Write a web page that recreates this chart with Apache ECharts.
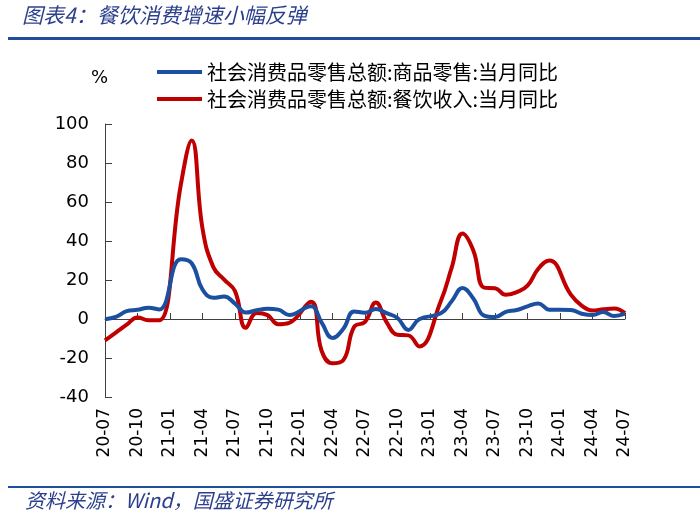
<!DOCTYPE html>
<html><head><meta charset="utf-8">
<script src="https://cdn.jsdelivr.net/npm/echarts@6/dist/echarts.min.js"></script>
<style>html,body{margin:0;padding:0;background:#fff;}#c{width:700px;height:521px;}</style>
</head><body><div id="c"></div>
<script>
var categories = ['20-07','20-08','20-09','20-10','20-11','20-12',
'21-01','21-02','21-03','21-04','21-05','21-06','21-07','21-08','21-09','21-10','21-11','21-12',
'22-01','22-02','22-03','22-04','22-05','22-06','22-07','22-08','22-09','22-10','22-11','22-12',
'23-01','23-02','23-03','23-04','23-05','23-06','23-07','23-08','23-09','23-10','23-11','23-12',
'24-01','24-02','24-03','24-04','24-05','24-06','24-07'];
var goodsRetail = [-0.1,1.1,4.0,4.7,5.8,4.9,
null,30.7,28.6,15.1,10.9,11.5,7.9,3.3,4.5,5.2,4.8,2.1,
null,6.5,-1.9,-9.7,-5.0,3.9,3.2,5.1,3.0,0.5,-5.6,-0.1,
null,2.9,9.1,15.9,10.5,1.7,1.0,3.7,4.6,6.5,8.0,4.8,
null,4.6,2.7,2.0,3.6,1.5,2.7];
var cateringRevenue = [-11.0,-7.0,-2.9,0.8,-0.6,-0.6,
null,68.9,91.6,46.4,26.6,20.2,14.3,-4.5,3.1,2.0,-2.7,-2.0,
null,8.9,-16.4,-22.7,-21.1,-4.0,-1.5,8.4,-1.7,-8.1,-8.4,-14.1,
null,9.2,26.3,43.8,35.1,16.1,15.8,12.4,13.8,17.1,25.8,30.0,
null,12.5,6.9,4.4,5.0,5.4,3.0];
var seriesNames = ['社会消费品零售总额:商品零售:当月同比','社会消费品零售总额:餐饮收入:当月同比'];
var titleText = '图表4：餐饮消费增速小幅反弹';
var sourceText = '资料来源：Wind，国盛证券研究所';

var chart = echarts.init(document.getElementById('c'));
var axisColor = '#404040';
chart.setOption({
  animation: false,
  backgroundColor: '#fff',
  textStyle: {fontFamily: 'DejaVu Sans'},
  grid: {left: 105, right: 75, top: 124, bottom: 124},
  legend: {
    orient: 'vertical', left: 152, top: 57, itemGap: 7,
    itemWidth: 45, itemHeight: 4, icon: 'rect',
    textStyle: {fontFamily: 'Noto Sans CJK SC', fontSize: 20, color: '#000'},
    data: seriesNames
  },
  xAxis: [{
    type: 'category', data: categories, boundaryGap: false,
    axisLine: {onZero: true, lineStyle: {color: axisColor, width: 1}},
    axisTick: {inside: true, length: 6, interval: 2, lineStyle: {color: axisColor}},
    axisLabel: {show: false}, splitLine: {show: false}
  }, {
    type: 'category', data: categories, boundaryGap: false, position: 'bottom',
    axisLine: {show: false, onZero: false}, axisTick: {show: false},
    axisLabel: {interval: 2, rotate: 90, margin: 11, fontSize: 17, color: '#000', fontFamily: 'DejaVu Sans'},
    splitLine: {show: false}
  }],
  yAxis: {
    type: 'value', min: -40, max: 100, interval: 20,
    axisLine: {show: true, lineStyle: {color: axisColor}},
    axisTick: {show: true, inside: true, length: 7, lineStyle: {color: axisColor}},
    axisLabel: {fontSize: 18, color: '#000', margin: 16, fontFamily: 'DejaVu Sans'},
    splitLine: {show: false}
  },
  series: [{
    name: seriesNames[0], type: 'line', data: goodsRetail, xAxisIndex: 0,
    smooth: 0.45, connectNulls: true, symbol: 'none',
    lineStyle: {color: '#1B4FA0', width: 4}, itemStyle: {color: '#1B4FA0'}, z: 3
  }, {
    name: seriesNames[1], type: 'line', data: cateringRevenue, xAxisIndex: 0,
    smooth: 0.45, connectNulls: true, symbol: 'none',
    lineStyle: {color: '#C00000', width: 4}, itemStyle: {color: '#C00000'}, z: 2
  }],
  graphic: [
    {type: 'text', left: 22, top: 5, style: {text: titleText, fontFamily: 'Noto Sans CJK SC', fontStyle: 'italic', fontSize: 21, fill: '#2B3F8C'}},
    {type: 'rect', shape: {x: 8, y: 37, width: 692, height: 3}, style: {fill: '#1F4E9C'}},
    {type: 'text', left: 91, top: 69, style: {text: '%', fontFamily: 'DejaVu Sans', fontSize: 18, fill: '#000'}},
    {type: 'rect', shape: {x: 8, y: 486, width: 692, height: 2}, style: {fill: '#1F4E9C'}},
    {type: 'text', left: 25, top: 490, style: {text: sourceText, fontFamily: 'Noto Sans CJK SC', fontStyle: 'italic', fontSize: 20, fill: '#2B3F8C'}}
  ]
});
</script></body></html>
